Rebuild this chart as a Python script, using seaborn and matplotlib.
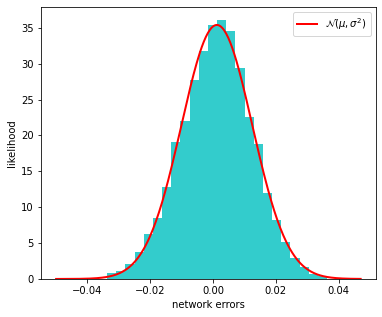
import numpy as np
import pandas as pd
import matplotlib
matplotlib.use("Agg")
import matplotlib.pyplot as plt
import seaborn as sns

# histogram (density)
bin_start = -0.03375
bin_width = 0.00292
heights = [0.79, 1.1, 2.1, 3.77, 6.3, 8.55, 12.8, 19.1, 22.0, 27.75, 31.8, 35.4,
           36.1, 34.6, 29.4, 22.6, 18.8, 12.0, 8.2, 5.16, 2.95, 1.7, 0.7, 0.35]

# fitted normal
mu = 0.0012
sigma = 0.01127
curve_min, curve_max = -0.05, 0.047

edges = bin_start + bin_width * np.arange(len(heights) + 1)
df = pd.DataFrame({"err": (edges[:-1] + edges[1:]) / 2, "h": heights})

# figure is 382x317 px at 72 dpi
fig, ax = plt.subplots(figsize=(382 / 72, 317 / 72), dpi=72)
fig.subplots_adjust(left=0.107, right=0.984, top=0.978, bottom=0.12)

sns.histplot(data=df, x="err", weights="h", bins=list(edges), stat="count",
             color=(0.2, 0.8, 0.8), alpha=1.0, linewidth=0, ax=ax)

xs = np.linspace(curve_min, curve_max, 300)
pdf = np.exp(-(xs - mu) ** 2 / (2 * sigma ** 2)) / (sigma * np.sqrt(2 * np.pi))
ax.plot(xs, pdf, color="red", lw=2, label=r"$\mathcal{N}(\mu,\sigma^2)$")

ax.set_xlabel("network errors")
ax.set_ylabel("likelihood")
ax.legend(loc="upper right")

fig.savefig("out.png", dpi=72)
